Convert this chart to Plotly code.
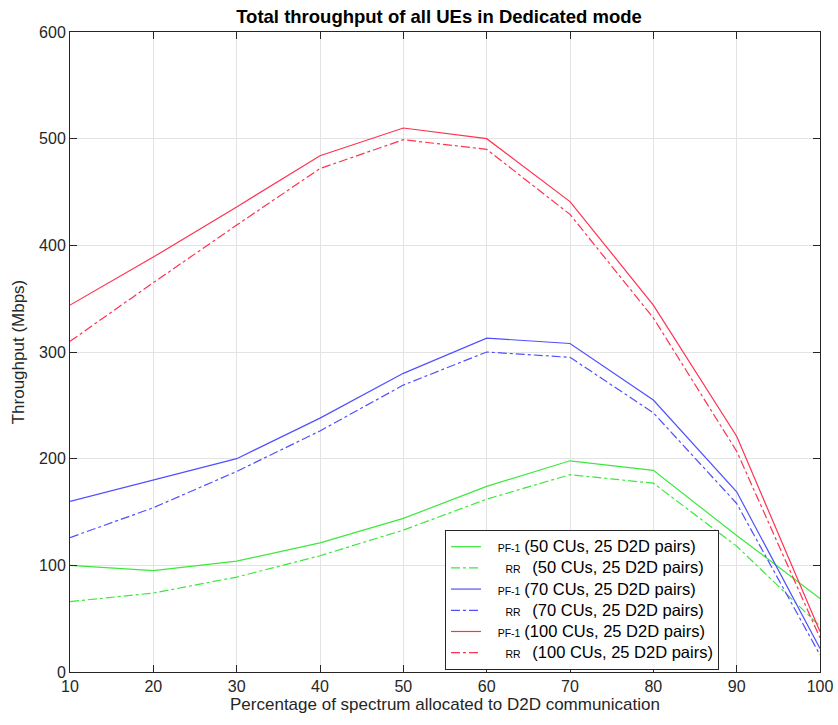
import plotly.graph_objects as go

# Percentage of spectrum allocated to D2D communication
spectrum_pct = [10, 20, 30, 40, 50, 60, 70, 80, 90, 100]

# Total throughput (Mbps)
pf_50 = [100, 95, 104, 121, 144, 174, 198, 189, 128, 69]
rr_50 = [66, 74, 89, 109, 133, 162, 185, 177, 118, 43]
pf_70 = [160, 180, 200, 238, 280, 313, 308, 255, 169, 22]
rr_70 = [126, 154, 188, 226, 269, 300, 295, 243, 158, 16]
pf_100 = [344, 389, 436, 484, 510, 500, 441, 344, 221, 38]
rr_100 = [310, 365, 419, 472, 499, 490, 429, 332, 207, 32]

series = [
    ("PF-1", "(50 CUs, 25 D2D pairs)", pf_50, "rgb(60,232,60)", "solid"),
    ("RR", "(50 CUs, 25 D2D pairs)", rr_50, "rgb(60,232,60)", "dashdot"),
    ("PF-1", "(70 CUs, 25 D2D pairs)", pf_70, "rgb(80,80,255)", "solid"),
    ("RR", "(70 CUs, 25 D2D pairs)", rr_70, "rgb(80,80,255)", "dashdot"),
    ("PF-1", "(100 CUs, 25 D2D pairs)", pf_100, "rgb(255,50,80)", "solid"),
    ("RR", "(100 CUs, 25 D2D pairs)", rr_100, "rgb(255,50,80)", "dashdot"),
]

FONT = "Liberation Sans, Arial, sans-serif"

fig = go.Figure()
for tag, desc, vals, color, dash in series:
    small = f"<span style='font-size:10.5px'>{tag}</span>"
    big = f"<span style='font-size:16.5px'>{desc}</span>"
    if tag == "PF-1":
        label = f"&nbsp;&nbsp;&nbsp;{small} {big}"
    else:
        label = f"&nbsp;&nbsp;&nbsp;&nbsp;&nbsp;{small}&nbsp;&nbsp;&nbsp;{big}"
    fig.add_trace(go.Scatter(
        x=spectrum_pct, y=vals, mode="lines", name=label,
        line=dict(color=color, width=1.2, dash=dash),
    ))

axis_common = dict(
    showgrid=True, gridcolor="#e3e3e3", gridwidth=1,
    showline=True, linecolor="#262626", linewidth=1, mirror="ticks",
    ticks="inside", ticklen=7, tickcolor="#262626",
    tickfont=dict(family=FONT, size=16, color="#262626"),
    zeroline=False, automargin=False,
)

fig.update_layout(
    width=838, height=725,
    margin=dict(l=70, r=18, t=32, b=53),
    paper_bgcolor="white", plot_bgcolor="white",
    font=dict(family=FONT, color="#262626"),
    title=dict(
        text="<b>Total throughput of all UEs in Dedicated mode</b>",
        x=439 / 838, xanchor="center", y=1 - 17 / 725, yanchor="middle",
        font=dict(size=18.5, color="#000000"),
    ),
    xaxis=dict(
        range=[10, 100], tickvals=spectrum_pct,
        title=dict(text="Percentage of spectrum allocated to D2D communication",
                   font=dict(size=17, color="#262626"), standoff=3),
        **axis_common,
    ),
    yaxis=dict(
        range=[0, 600], tickvals=[0, 100, 200, 300, 400, 500, 600],
        title=dict(text="Throughput (Mbps)", font=dict(size=17, color="#262626"), standoff=10),
        **axis_common,
    ),
    legend=dict(
        x=0.5, y=0.003, xanchor="left", yanchor="bottom",
        bgcolor="white", bordercolor="#262626", borderwidth=1,
        font=dict(size=14, color="#000000"),
        tracegroupgap=0,
    ),
    showlegend=True,
)

fig.write_html("out.html")
